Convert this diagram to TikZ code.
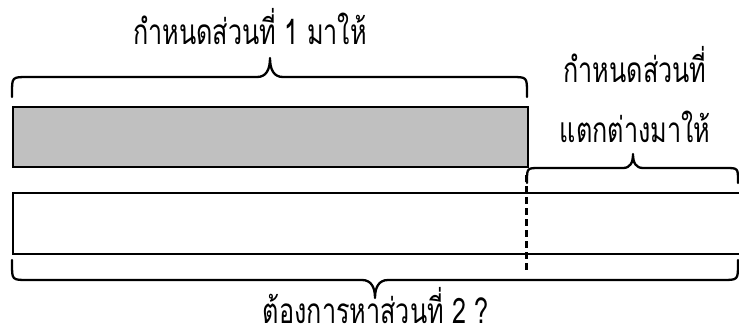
\documentclass[tikz,border=0pt]{standalone}
\usepackage{fontspec}
\newfontfamily\thaifont[Script=Thai]{Loma}
\definecolor{barfill}{RGB}{192,192,192}
\newcommand{\tallthai}[1]{\scalebox{0.97}[1.35]{\thaifont\fontsize{26}{30}\selectfont #1}}
\begin{document}
\begin{tikzpicture}[x=1pt,y=-1pt,
  edge/.style={line width=2.3pt, line join=round, line cap=round},
  bar/.style={draw, line width=2.3pt, inner sep=0pt, anchor=north west, minimum height=60pt},
  lbl/.style={anchor=base, inner sep=0pt}]
\useasboundingbox (0,0) rectangle (739,329);
\clip (0,0) rectangle (739,329);
% bars
\node[bar, fill=barfill, minimum width=515pt] (given) at (12,106) {};
\node[bar, fill=white, minimum width=780pt, minimum height=61pt] (whole) at (12,192) {};
% dashed divider
\coordinate (dtop) at (526.5,175);
\coordinate (dbot) at (526.5,272);
\draw[line width=2.3pt, dash pattern=on 7pt off 4pt] (dtop) -- (dbot);
% top brace
\draw[edge] (12,97) -- (12,93) .. controls (12,77) .. (28,77) -- (257,77)
  .. controls (266,77) and (270,70) .. (270,58)
  .. controls (270,70) and (274,77) .. (283,77) -- (511,77)
  .. controls (527,77) .. (527,93) -- (527,97);
% right small brace
\draw[edge] (527,183) -- (527,181) .. controls (527,168) .. (540,168) -- (623,168)
  .. controls (630,168) and (633,163) .. (633,154)
  .. controls (633,163) and (636,168) .. (643,168) -- (725,168)
  .. controls (738,168) .. (738,181) -- (738,183);
% bottom brace
\draw[edge] (12,260) -- (12,264) .. controls (12,280) .. (28,280) -- (362,280)
  .. controls (371,280) and (375,287) .. (375,298)
  .. controls (375,287) and (379,280) .. (388,280) -- (722,280)
  .. controls (738,280) .. (738,264) -- (738,260);
% labels
\node[lbl] (t1) at (250,45) {\tallthai{กำหนดส่วนที่ 1 มาให้}};
\node[lbl] (t2) at (635,82) {\tallthai{กำหนดส่วนที่}};
\node[lbl] (t3) at (635,142) {\tallthai{แตกต่างมาให้}};
\node[lbl] (t4) at (376,323) {\tallthai{ต้องการหาส่วนที่ 2 ?}};
\end{tikzpicture}
\end{document}
